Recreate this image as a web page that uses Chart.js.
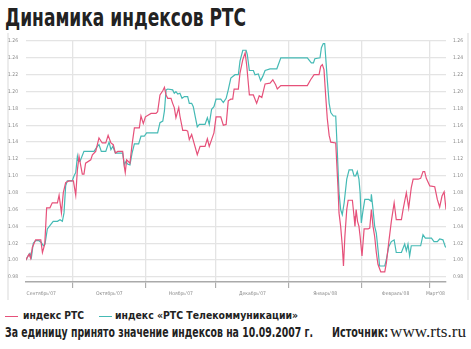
<!DOCTYPE html>
<html>
<head>
<meta charset="utf-8">
<script src="https://cdn.jsdelivr.net/npm/chart.js@4.4.1/dist/chart.umd.min.js"></script>
<style>
body{margin:0;width:471px;height:349px;background:#fff;position:relative;overflow:hidden;font-family:"DejaVu Sans Condensed","Liberation Sans",sans-serif;color:#222;}
#title{position:absolute;left:5px;top:6px;font-size:24px;line-height:1;font-weight:bold;white-space:nowrap;}
#panel{position:absolute;left:7px;top:33px;width:458px;height:267px;border-left:2px solid #ececec;border-right:2px solid #ececec;}
#wrap{position:absolute;left:0;top:0;width:471px;height:302px;}
.txt{position:absolute;font-weight:bold;line-height:1;white-space:nowrap;}
.mark{position:absolute;height:1px;width:13px;}
</style>
</head>
<body>
<div id="title" data-w="241">Динамика индексов РТС</div>
<div id="panel"></div>
<div id="wrap"><canvas id="chart" width="471" height="302"></canvas></div>

<div class="mark" style="left:5px;top:316px;background:#e6517a"></div>
<div class="txt" data-w="61" style="left:23px;top:310px;font-size:11px">индекс РТС</div>
<div class="mark" style="left:99px;top:316px;background:#45bab5"></div>
<div class="txt" data-w="183" style="left:115px;top:310px;font-size:11px">индекс «РТС Телекоммуникации»</div>

<div class="txt" data-w="308" style="left:5px;top:325.6px;font-size:13.5px">За единицу принято значение индексов на 10.09.2007 г.</div>
<div class="txt" data-w="56" style="left:332px;top:325.6px;font-size:13.5px">Источник:</div>
<div class="txt" data-w="76" style="left:390px;top:324px;font-size:16px;font-weight:normal;font-family:'Liberation Serif','DejaVu Serif',serif">www.rts.ru</div>

<script>
// days counted from 10.09.2007
const monthStarts=[21,52,82,113,144,173];
const monthLabelPos=[7.5,36.5,67,97.5,128.5,158.5,175.5];
const monthLabels=["Сентябрь'07","Октябрь'07","Ноябрь'07","Декабрь'07","Январь'08","Февраль'08","Март'08"];
const yTicks=[0.98,1.00,1.02,1.04,1.06,1.08,1.10,1.12,1.14,1.16,1.18,1.20,1.22,1.24,1.26];

const rtsDays=[0.9,2.3,3.0,3.7,5.1,7.3,8.0,9.0,9.8,11.2,12.2,14.4,15.1,16.1,16.9,17.9,19.3,21.2,22.2,22.9,23.6,25.0,25.7,26.4,28.6,29.3,30.7,32.1,33.5,35.0,36.0,37.2,38.2,39.1,40.1,42.2,42.9,43.3,43.9,45.3,46.2,47.2,49.3,50.0,51.0,51.9,54.3,56.4,57.1,58.1,59.3,60.0,60.7,61.4,62.8,63.5,64.2,64.9,66.1,66.6,67.8,69.2,69.9,70.6,71.6,72.6,74.0,75.2,77.3,78.3,79.1,80.1,81.1,82.0,84.0,85.1,86.3,87.2,88.3,89.1,89.7,91.5,92.2,93.4,94.4,95.1,96.2,97.9,99.3,100.4,101.5,102.9,105.0,106.2,107.4,108.1,109.6,120.9,122.3,123.8,125.9,126.6,127.3,128.0,128.7,129.4,130.2,130.9,133.0,133.4,134.0,134.4,135.1,135.8,136.3,136.9,137.7,138.3,140.1,140.8,141.2,141.7,142.3,142.9,143.4,144.2,145.1,146.8,147.5,148.2,148.9,149.6,150.3,151.0,152.2,153.9,154.6,155.6,156.7,157.9,158.8,161.0,161.7,163.1,164.1,165.2,166.0,168.1,169.2,170.2,170.9,171.6,173.1,175.2,176.3,177.3,178.3,179.2,180.0];
const rtsValues=[1.000,1.007,1.002,1.015,1.024,1.024,1.009,1.019,1.062,1.062,1.068,1.068,1.077,1.056,1.080,1.092,1.094,1.094,1.077,1.107,1.123,1.102,1.102,1.115,1.119,1.125,1.129,1.145,1.139,1.139,1.148,1.139,1.137,1.127,1.129,1.129,1.111,1.104,1.119,1.115,1.137,1.157,1.157,1.171,1.162,1.170,1.174,1.174,1.176,1.196,1.201,1.205,1.196,1.192,1.192,1.186,1.181,1.169,1.181,1.171,1.154,1.154,1.153,1.143,1.149,1.139,1.125,1.135,1.135,1.144,1.135,1.143,1.151,1.170,1.170,1.160,1.161,1.189,1.191,1.191,1.203,1.203,1.222,1.238,1.246,1.230,1.196,1.196,1.186,1.195,1.193,1.209,1.210,1.214,1.208,1.203,1.207,1.207,1.214,1.220,1.220,1.230,1.232,1.226,1.196,1.168,1.148,1.140,1.139,1.117,1.084,1.056,1.040,1.017,0.993,1.028,1.060,1.071,1.071,1.052,1.040,1.060,1.046,1.040,1.028,1.005,1.037,1.037,1.038,1.060,1.040,1.028,1.009,0.995,0.986,0.986,0.997,1.021,1.046,1.068,1.048,1.048,1.060,1.080,1.062,1.086,1.096,1.096,1.097,1.105,1.105,1.097,1.088,1.087,1.072,1.063,1.076,1.081,1.060];

const telDays=[0.9,1.9,2.7,3.3,4.1,5.1,6.5,7.5,8.4,9.1,10.1,11.5,12.6,14.4,15.5,16.5,17.2,17.9,18.6,20.7,21.5,22.2,22.9,23.2,24.0,25.7,30.0,31.4,32.1,33.1,35.0,35.7,36.4,37.2,38.0,39.1,42.2,42.9,43.6,44.3,45.3,46.2,47.2,49.0,50.0,51.4,52.4,57.1,58.1,59.3,60.0,60.7,61.4,63.5,64.2,64.9,65.7,66.6,67.5,68.5,69.9,70.6,71.6,72.3,73.0,74.0,74.9,77.3,78.3,79.1,80.1,81.1,82.0,84.0,85.1,86.3,87.2,88.3,90.1,91.5,92.2,93.4,94.8,95.3,96.2,97.9,98.6,100.0,101.0,101.9,102.9,105.0,107.9,109.6,120.9,122.6,123.5,124.1,126.3,126.9,127.7,128.3,128.7,129.4,130.2,130.9,132.0,133.0,133.4,134.0,134.4,135.1,135.8,136.6,137.7,138.7,140.1,140.8,141.5,142.2,142.9,143.4,143.9,144.7,145.4,147.1,148.0,148.2,148.9,149.6,150.3,151.0,151.7,153.9,154.6,155.6,156.7,157.9,158.8,161.0,162.4,163.1,163.8,164.5,165.2,169.2,170.2,171.2,173.8,174.9,176.3,177.3,178.7,179.7,180.0];
const telValues=[1.000,1.005,1.008,1.003,1.020,1.023,1.023,1.021,1.017,1.019,1.037,1.042,1.046,1.046,1.048,1.046,1.056,1.088,1.094,1.094,1.100,1.104,1.123,1.118,1.117,1.129,1.129,1.135,1.137,1.129,1.129,1.135,1.140,1.131,1.135,1.127,1.127,1.113,1.117,1.114,1.113,1.127,1.138,1.138,1.147,1.147,1.151,1.151,1.163,1.165,1.177,1.202,1.203,1.202,1.198,1.200,1.197,1.198,1.192,1.194,1.194,1.186,1.186,1.182,1.172,1.158,1.161,1.161,1.169,1.161,1.179,1.182,1.191,1.191,1.187,1.192,1.202,1.216,1.220,1.220,1.236,1.249,1.249,1.244,1.225,1.225,1.220,1.221,1.213,1.218,1.225,1.227,1.227,1.240,1.240,1.234,1.234,1.239,1.240,1.252,1.257,1.257,1.242,1.214,1.186,1.175,1.171,1.171,1.147,1.107,1.080,1.060,1.054,1.068,1.096,1.107,1.107,1.100,1.100,1.105,1.096,1.080,1.044,1.060,1.072,1.072,1.070,1.078,1.060,1.040,1.032,1.013,0.993,0.993,1.001,1.016,1.022,1.024,1.009,1.009,1.019,1.011,1.019,1.005,1.017,1.017,1.030,1.026,1.026,1.022,1.022,1.025,1.024,1.016,1.015];

// squeeze the condensed captions to the widths they have in the picture
document.querySelectorAll('[data-w]').forEach(el=>{
  const w=el.getBoundingClientRect().width;
  el.style.transformOrigin='0 0';
  el.style.transform='scaleX('+(el.dataset.w/w)+')';
});

const tickFont={family:"DejaVu Sans Condensed, sans-serif",size:5};
const gridColor='#e4e4e4';

new Chart(document.getElementById('chart').getContext('2d'),{
  type:'line',
  data:{datasets:[
    {label:'индекс РТС',data:rtsDays.map((d,i)=>({x:d,y:rtsValues[i]})),borderColor:'#e6517a',borderWidth:1.2,pointRadius:0,tension:0,yAxisID:'y'},
    {label:'индекс «РТС Телекоммуникации»',data:telDays.map((d,i)=>({x:d,y:telValues[i]})),borderColor:'#45bab5',borderWidth:1.2,pointRadius:0,tension:0,yAxisID:'y'}
  ]},
  options:{
    responsive:false,animation:false,devicePixelRatio:1,
    layout:{padding:{top:41,left:0,right:0,bottom:0}},
    plugins:{legend:{display:false},tooltip:{enabled:false}},
    scales:{
      x:{type:'linear',min:1,max:180,position:'bottom',
        afterBuildTicks:s=>{s.ticks=monthStarts.map(v=>({value:v}));},
        ticks:{display:false},
        grid:{color:gridColor,lineWidth:1.3,drawTicks:true,tickLength:6,tickColor:'#a0a0a0',tickWidth:1},
        border:{display:true,color:'#aaaaaa',width:1.5},
        afterFit:s=>{s.height=6;}},
      x2:{type:'linear',min:1,max:180,position:'bottom',
        afterBuildTicks:s=>{s.ticks=monthLabelPos.map(v=>({value:v}));},
        grid:{display:false,drawTicks:false},border:{display:false},
        ticks:{autoSkip:false,maxRotation:0,padding:3,font:tickFont,color:'#8a8a8a',callback:(v,i)=>monthLabels[i]},
        afterFit:s=>{s.height=14;}},
      y:{min:0.974,max:1.26,position:'left',
        afterBuildTicks:s=>{s.ticks=yTicks.map(v=>({value:v}));},
        ticks:{font:tickFont,color:'#8a8a8a',padding:8,callback:v=>v.toFixed(2)},
        grid:{color:gridColor,lineWidth:1.3,drawTicks:false},border:{display:false},
        afterFit:s=>{s.width=26;}},
      y2:{min:0.974,max:1.26,position:'right',
        afterBuildTicks:s=>{s.ticks=yTicks.map(v=>({value:v}));},
        ticks:{font:tickFont,color:'#8a8a8a',padding:7,callback:v=>v.toFixed(2)},
        grid:{display:false,drawTicks:false},border:{display:false},
        afterFit:s=>{s.width=25;}}
    }
  }
});
</script>
</body>
</html>
